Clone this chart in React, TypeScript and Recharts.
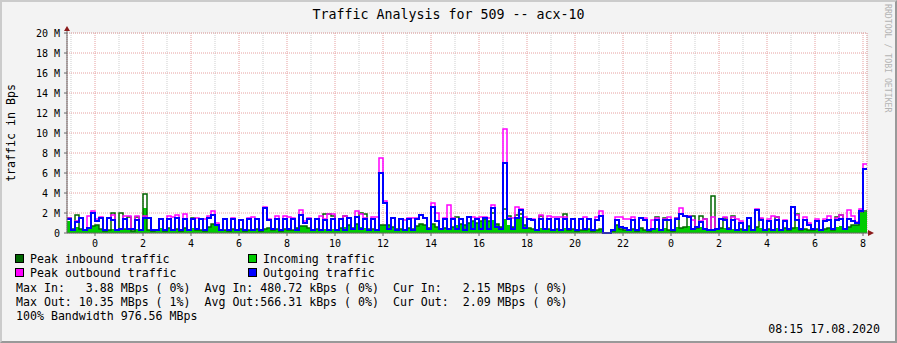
import React from 'react';
import { ComposedChart, Area, Line, XAxis, YAxis, CartesianGrid } from 'recharts';

// 10 minute samples from 22:50 (15.08.2020), values in 0.1 MBps
const OUT = [
  14, 3, 11, 15, 3, 5, 20, 12, 15, 3,
  15, 13, 3, 4, 14, 4, 4, 13, 3, 15,
  15, 3, 3, 14, 3, 14, 3, 15, 3, 14,
  3, 14, 4, 14, 3, 15, 18, 8, 3, 14,
  3, 14, 3, 13, 3, 14, 3, 14, 3, 25,
  13, 4, 14, 3, 14, 4, 14, 3, 18, 10,
  14, 3, 14, 3, 13, 3, 14, 3, 14, 3,
  15, 4, 16, 4, 14, 3, 14, 3, 60, 30,
  4, 15, 3, 14, 3, 14, 3, 14, 18, 15,
  4, 26, 12, 4, 14, 4, 14, 4, 14, 3,
  16, 4, 14, 4, 15, 4, 25, 6, 4, 70,
  14, 4, 15, 23, 5, 14, 13, 3, 14, 4,
  14, 3, 14, 3, 14, 4, 14, 3, 14, 4,
  14, 3, 13, 17, 0, 0, 3, 13, 6, 5,
  3, 13, 3, 15, 13, 3, 4, 13, 3, 13,
  13, 3, 14, 19, 17, 16, 4, 6, 11, 4,
  3, 3, 4, 14, 13, 4, 13, 3, 10, 3,
  15, 3, 23, 13, 3, 12, 3, 13, 3, 12,
  4, 26, 13, 4, 13, 8, 4, 12, 3, 12,
  13, 4, 13, 14, 4, 14, 12, 10, 22, 64,
];

const IN = [
  12, 4, 6, 4, 3, 5, 7, 8, 4, 2,
  3, 4, 3, 5, 4, 3, 2, 4, 3, 25,
  3, 2, 3, 5, 2, 5, 3, 4, 2, 5,
  3, 5, 3, 3, 2, 6, 9, 8, 3, 3,
  2, 4, 3, 4, 2, 3, 3, 4, 2, 4,
  5, 3, 4, 2, 4, 3, 3, 5, 7, 7,
  5, 3, 4, 3, 4, 3, 4, 3, 5, 6,
  8, 5, 9, 6, 5, 4, 4, 3, 8, 8,
  8, 6, 4, 4, 3, 5, 4, 7, 9, 8,
  5, 9, 6, 4, 5, 4, 6, 8, 9, 8,
  10, 12, 10, 12, 14, 12, 13, 9, 6, 14,
  8, 6, 16, 16, 8, 5, 4, 3, 5, 4,
  4, 3, 4, 3, 5, 3, 4, 2, 3, 3,
  4, 2, 3, 4, 0, 0, 2, 8, 4, 3,
  3, 4, 2, 5, 3, 2, 4, 5, 3, 5,
  3, 2, 6, 5, 6, 7, 4, 5, 6, 5,
  3, 3, 4, 5, 5, 5, 4, 3, 4, 3,
  7, 3, 6, 5, 3, 4, 3, 5, 3, 5,
  3, 5, 6, 3, 4, 3, 3, 4, 3, 4,
  5, 3, 6, 7, 4, 6, 8, 8, 20, 21,
];

const PEAK_OUT = [
  15, 3, 12, 15, 3, 17, 22, 14, 16, 3,
  15, 18, 3, 4, 17, 17, 4, 17, 3, 17,
  15, 3, 3, 14, 3, 17, 16, 18, 3, 19,
  3, 14, 15, 14, 14, 17, 22, 10, 3, 14,
  3, 15, 3, 13, 3, 15, 16, 14, 3, 26,
  14, 4, 17, 3, 17, 16, 15, 3, 23, 12,
  15, 3, 14, 17, 14, 19, 19, 3, 14, 17,
  15, 4, 22, 19, 15, 3, 16, 16, 75, 32,
  4, 15, 3, 14, 13, 15, 15, 15, 18, 15,
  4, 30, 20, 4, 15, 28, 15, 4, 14, 3,
  16, 16, 15, 16, 16, 15, 28, 6, 4, 104,
  15, 15, 26, 24, 16, 14, 14, 3, 18, 4,
  17, 16, 16, 16, 16, 4, 14, 3, 14, 16,
  14, 3, 16, 22, 0, 0, 3, 16, 16, 14,
  14, 16, 3, 15, 15, 3, 13, 15, 3, 14,
  16, 3, 15, 25, 17, 17, 13, 6, 12, 14,
  3, 16, 4, 14, 16, 4, 16, 14, 12, 3,
  15, 3, 24, 15, 3, 14, 17, 16, 3, 13,
  4, 26, 18, 4, 16, 10, 4, 14, 3, 14,
  17, 4, 15, 18, 4, 23, 17, 11, 24, 69,
];

const PEAK_IN = [
  15, 4, 18, 4, 3, 5, 7, 8, 4, 2,
  3, 20, 3, 20, 4, 16, 2, 16, 3, 39,
  3, 2, 3, 14, 2, 5, 3, 4, 2, 5,
  3, 15, 3, 3, 2, 6, 9, 8, 3, 3,
  2, 4, 3, 4, 2, 3, 3, 4, 2, 4,
  5, 3, 4, 2, 4, 3, 3, 5, 7, 7,
  5, 3, 4, 3, 19, 19, 17, 3, 5, 17,
  8, 5, 9, 20, 19, 4, 4, 3, 8, 8,
  8, 6, 4, 4, 3, 5, 4, 7, 9, 8,
  5, 9, 6, 4, 5, 4, 6, 16, 9, 8,
  10, 12, 10, 12, 14, 12, 20, 9, 6, 24,
  17, 6, 18, 19, 8, 5, 4, 3, 17, 4,
  4, 3, 4, 3, 19, 3, 4, 2, 3, 3,
  4, 2, 3, 4, 0, 0, 2, 8, 4, 3,
  3, 4, 2, 5, 3, 2, 4, 16, 3, 15,
  3, 2, 15, 5, 6, 17, 17, 5, 17, 14,
  3, 37, 4, 5, 15, 5, 17, 3, 4, 3,
  7, 3, 6, 14, 3, 4, 3, 16, 3, 5,
  3, 5, 19, 3, 4, 3, 3, 4, 3, 4,
  5, 3, 16, 18, 4, 6, 8, 8, 21, 22,
];

const START_MIN = 22 * 60 + 50;
const STEP = 10;

// minutes after start
const HOUR_TICKS = [70, 190, 310, 430, 550, 670, 790, 910, 1030, 1150, 1270, 1390, 1510, 1630, 1750, 1870, 1990];
const ODD_HOURS = [10, 130, 250, 370, 490, 610, 730, 850, 970, 1090, 1210, 1330, 1450, 1570, 1690, 1810, 1930];
const Y_TICKS = [0, 2, 4, 6, 8, 10, 12, 14, 16, 18, 20];
const Y_MINOR = [0.5, 1, 1.5, 2.5, 3, 3.5, 4.5, 5, 5.5, 6.5, 7, 7.5, 8.5, 9, 9.5, 10.5, 11, 11.5, 12.5, 13, 13.5,
  14.5, 15, 15.5, 16.5, 17, 17.5, 18.5, 19, 19.5];

const STATS = [
  'Max In:   3.88 MBps ( 0%)  Avg In: 480.72 kBps ( 0%)  Cur In:   2.15 MBps ( 0%)',
  'Max Out: 10.35 MBps ( 1%)  Avg Out:566.31 kBps ( 0%)  Cur Out:  2.09 MBps ( 0%)',
  '100% Bandwidth 976.56 MBps',
];

const rows = OUT.map((o, i) => ({
  t: i * STEP,
  out: o / 10,
  in: IN[i] / 10,
  pkOut: PEAK_OUT[i] / 10,
  pkIn: PEAK_IN[i] / 10,
}));
// close the last step
rows.push({ ...rows[rows.length - 1], t: OUT.length * STEP });

const FONT = '"DejaVu Sans Mono", monospace';
const hourLabel = (t: number) => String(Math.round(((START_MIN + t) / 60) % 24));

const legend = [
  { x: 15, y: 259, color: '#006600', label: 'Peak inbound traffic' },
  { x: 248, y: 259, color: '#00CC00', label: 'Incoming traffic' },
  { x: 15, y: 273, color: '#FF00FF', label: 'Peak outbound traffic' },
  { x: 248, y: 273, color: '#0000FF', label: 'Outgoing traffic' },
];

export default function App() {
  return (
    <div style={{ position: 'relative', width: 897, height: 343, background: '#F3F3F3', overflow: 'hidden' }}>
      <style>{'body{margin:0}'}</style>
      <ComposedChart
        width={897}
        height={343}
        data={rows}
        margin={{ top: 33, right: 30, bottom: 80, left: 7 }}
        style={{ position: 'absolute', left: 0, top: 0 }}
      >
        <XAxis xAxisId="minor" dataKey="t" type="number" domain={[0, 2000]} ticks={ODD_HOURS} hide />
        <YAxis yAxisId="minor" type="number" domain={[0, 20]} ticks={Y_MINOR} hide />
        <CartesianGrid xAxisId="minor" yAxisId="minor" fill="#FFFFFF" stroke="#CFCFCF" strokeDasharray="1 1" />
        <CartesianGrid stroke="#E6A0A0" strokeDasharray="1 1" />
        <XAxis
          dataKey="t"
          type="number"
          domain={[0, 2000]}
          ticks={HOUR_TICKS}
          interval={0}
          tickFormatter={hourLabel}
          height={30}
          tickSize={3}
          tickMargin={4}
          axisLine={{ stroke: '#666666' }}
          tickLine={{ stroke: '#666666' }}
          tick={{ fill: '#000', fontSize: 10, fontFamily: FONT }}
        />
        <YAxis
          type="number"
          domain={[0, 20]}
          ticks={Y_TICKS}
          interval={0}
          width={60}
          tickSize={3}
          tickMargin={4}
          tickFormatter={(v: number) => (v === 0 ? '0' : `${v} M`)}
          axisLine={{ stroke: '#666666' }}
          tickLine={{ stroke: '#666666' }}
          tick={{ fill: '#000', fontSize: 10, fontFamily: FONT }}
        />
        <Area type="stepAfter" dataKey="in" fill="#00CC00" fillOpacity={1} stroke="none" isAnimationActive={false} />
        <Line type="stepAfter" dataKey="pkIn" stroke="#006600" strokeWidth={1.5} dot={false} activeDot={false} isAnimationActive={false} />
        <Line type="stepAfter" dataKey="pkOut" stroke="#FF00FF" strokeWidth={1.5} dot={false} activeDot={false} isAnimationActive={false} />
        <Line type="stepAfter" dataKey="out" stroke="#0000FF" strokeWidth={2} dot={false} activeDot={false} isAnimationActive={false} />
      </ComposedChart>

      <svg width={897} height={343} style={{ position: 'absolute', left: 0, top: 0, pointerEvents: 'none' }} fontFamily={FONT}>
        <text x={448.5} y={14} fontSize={13.3} textAnchor="middle" dominantBaseline="central">
          Traffic Analysis for 509 -- acx-10
        </text>
        <text x={11} y={133} fontSize={11.6} textAnchor="middle" dominantBaseline="central" transform="rotate(-90, 11, 133)">
          traffic in Bps
        </text>
        <text x={888} y={4} fontSize={8.2} fill="#B4B4B4" dominantBaseline="central" transform="rotate(90, 888, 4)">
          RRDTOOL / TOBI OETIKER
        </text>

        <line x1={67} y1={33} x2={67} y2={30} stroke="#666666" />
        <polygon points="64,31 70,31 67,26" fill="#8B1A1A" />
        <line x1={867} y1={233} x2={869} y2={233} stroke="#666666" />
        <polygon points="868,230 868,236 874,233" fill="#8B1A1A" />

        {legend.map((l) => (
          <g key={l.label}>
            <rect x={l.x + 0.5} y={l.y - 4.5} width={8} height={8} fill={l.color} stroke="#000" />
            <text x={l.x + 15} y={l.y} fontSize={11.6} dominantBaseline="central">{l.label}</text>
          </g>
        ))}
        {STATS.map((s, i) => (
          <text key={i} x={16} y={287.5 + i * 14} fontSize={11.6} dominantBaseline="central" style={{ whiteSpace: 'pre' }}>
            {s}
          </text>
        ))}
        <text x={880} y={329} fontSize={11.6} textAnchor="end" dominantBaseline="central">08:15 17.08.2020</text>
      </svg>
      <div
        style={{
          position: 'absolute', left: 0, top: 0, width: 897, height: 343, boxSizing: 'border-box',
          borderStyle: 'solid', borderWidth: 2, borderColor: '#CBCBCB #999999 #999999 #CBCBCB', pointerEvents: 'none',
        }}
      />
    </div>
  );
}
